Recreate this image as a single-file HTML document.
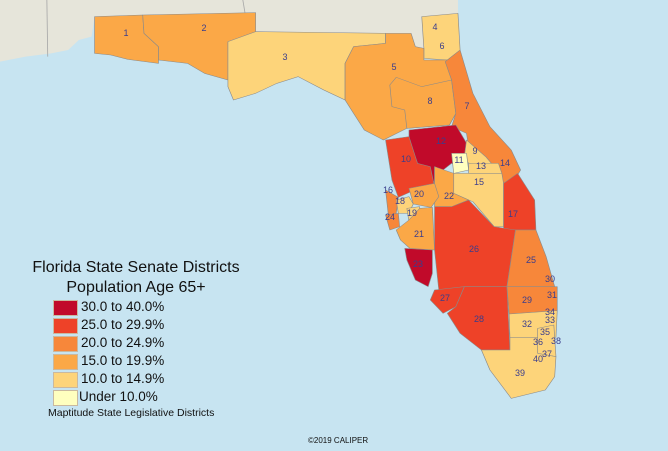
<!DOCTYPE html>
<html><head><meta charset="utf-8"><style>
body{margin:0;width:668px;height:451px;overflow:hidden;background:#c7e4f1;font-family:"Liberation Sans",sans-serif;position:relative}
svg{position:absolute;left:0;top:0}
.t{position:absolute;color:#111;white-space:nowrap}
.b{position:absolute;left:53px;width:23px;height:14px;border:1px solid #c9b9a0}
</style></head><body>
<svg width="668" height="451" viewBox="0 0 1568 1353" preserveAspectRatio="none">
<rect width="1568" height="1353" fill="#c7e4f1"/>
<polygon fill="#e6e5da" points="0,0 1075,0 1075,42 990,50 995,145 975,140 965,100 905,100 600,95 600,38 335,45 222,50 215,110 185,120 160,150 120,160 60,170 0,185"/>
<g stroke="#a9a9a9" stroke-width="2" fill="none"><path d="M110,0 L112,170"/><path d="M570,0 L575,38"/></g>
<g stroke="#8a8a8a" stroke-width="1.5" stroke-linejoin="round">
<polygon fill="#fba847" points="222,50 335,45 338,100 372,140 372,190 300,178 260,165 222,160"/>
<polygon fill="#fba847" points="335,45 600,38 600,95 535,125 535,240 480,220 440,190 372,180 372,140 338,100"/>
<polygon fill="#fdd47a" points="535,125 600,95 905,100 905,130 830,140 810,190 810,300 760,270 700,230 650,250 600,280 548,300 535,260"/>
<polygon fill="#fdd47a" points="990,50 1075,40 1080,150 1050,180 995,175 995,145"/>
<polygon fill="#fba847" points="830,140 905,130 905,100 965,100 975,140 995,145 995,180 1050,180 1060,240 1070,340 1055,375 955,385 900,420 855,390 830,340 810,300 810,190"/>
<polygon fill="#fba847" points="915,255 930,232 990,260 1060,240 1070,340 1055,375 955,385 950,330 920,320"/>
<polygon fill="#f7873a" points="1045,185 1080,150 1110,280 1150,380 1200,450 1222,510 1210,535 1180,550 1160,500 1140,470 1100,440 1095,400 1060,380 1070,340 1060,240"/>
<polygon fill="#c10a2a" points="960,390 1070,375 1100,440 1090,500 1060,490 1040,510 1020,500 1020,550 1000,500 980,490 960,420"/>
<polygon fill="#ee4228" points="905,420 960,410 980,490 1010,500 1020,560 965,575 935,592 920,540"/>
<polygon fill="#fdd47a" points="1095,420 1140,470 1160,500 1100,490 1090,470"/>
<polygon fill="#ffffbf" points="1060,460 1095,460 1100,510 1065,520"/>
<polygon fill="#fdd47a" points="1100,490 1170,490 1178,520 1100,520"/>
<polygon fill="#fdd47a" points="1065,520 1178,520 1182,550 1182,680 1160,680 1110,605 1100,600 1065,580"/>
<polygon fill="#ee4228" points="1182,550 1215,520 1255,600 1258,690 1182,690"/>
<polygon fill="#fba847" points="1020,500 1065,520 1065,580 1100,600 1060,620 1020,620 1020,550"/>
<polygon fill="#fba847" points="960,565 1020,550 1030,590 1012,622 970,612"/>
<polygon fill="#f7873a" points="905,570 935,592 930,640 912,650"/>
<polygon fill="#fdd47a" points="930,600 960,590 970,612 960,640 935,640"/>
<polygon fill="#fdd47a" points="955,625 985,620 985,660 960,665"/>
<polygon fill="#f7873a" points="905,645 935,640 938,680 915,690"/>
<polygon fill="#fba847" points="960,660 985,625 1015,622 1020,750 962,745 940,720 930,690"/>
<polygon fill="#ee4228" points="1020,620 1060,620 1100,600 1160,680 1210,690 1190,860 1090,860 1030,870 1020,750"/>
<polygon fill="#c10a2a" points="950,745 1015,750 1015,820 1005,860 975,840 955,780"/>
<polygon fill="#f7873a" points="1210,690 1258,690 1282,770 1302,860 1190,860"/>
<polygon fill="#ee4228" points="1020,870 1090,860 1070,920 1040,940 1010,900"/>
<polygon fill="#ee4228" points="1090,860 1190,860 1197,1050 1130,1050 1080,1000 1050,940 1070,920"/>
<polygon fill="#f7873a" points="1190,860 1308,860 1308,932 1195,942"/>
<polygon fill="#fdd47a" points="1195,942 1308,932 1305,1012 1197,1012"/>
<polygon fill="#fdd47a" points="1262,985 1300,975 1305,1070 1262,1060"/>
<polygon fill="#fdd47a" points="1197,1012 1262,1012 1262,1060 1305,1070 1302,1130 1280,1170 1200,1195 1150,1110 1130,1050 1197,1050"/>
</g>
</svg>
<svg width="668" height="451" viewBox="0 0 668 451">
<g font-family="Liberation Sans,sans-serif" font-size="9" fill="#3a3d8c" text-anchor="middle">
<text x="126" y="36">1</text><text x="204" y="31">2</text><text x="285" y="60">3</text><text x="435" y="30">4</text><text x="394" y="70">5</text><text x="442" y="49">6</text><text x="467" y="109">7</text><text x="430" y="104">8</text><text x="475" y="154">9</text><text x="406" y="162">10</text><text x="459" y="163">11</text><text x="441" y="144">12</text><text x="481" y="169">13</text><text x="505" y="166">14</text><text x="479" y="185">15</text><text x="388" y="193">16</text><text x="513" y="217">17</text><text x="400" y="204">18</text><text x="412" y="216">19</text><text x="419" y="197">20</text><text x="419" y="237">21</text><text x="449" y="199">22</text><text x="418" y="267">23</text><text x="390" y="220">24</text><text x="531" y="263">25</text><text x="474" y="252">26</text><text x="445" y="301">27</text><text x="479" y="322">28</text><text x="527" y="303">29</text><text x="550" y="282">30</text><text x="552" y="298">31</text><text x="527" y="327">32</text><text x="550" y="323">33</text><text x="550" y="315">34</text><text x="545" y="335">35</text><text x="538" y="345">36</text><text x="556" y="344">38</text><text x="547" y="357">37</text><text x="538" y="362">40</text><text x="520" y="376">39</text>
</g></svg>
<div class="t" style="left:0;width:272px;text-align:center;top:259px;font-size:16px">Florida State Senate Districts</div>
<div class="t" style="left:0;width:272px;text-align:center;top:279px;font-size:16px">Population Age 65+</div>
<div class="b" style="top:300px;background:#c10a2a"></div>
<div class="b" style="top:318px;background:#ee4228"></div>
<div class="b" style="top:336px;background:#f7873a"></div>
<div class="b" style="top:354px;background:#fba847"></div>
<div class="b" style="top:372px;background:#fdd47a"></div>
<div class="b" style="top:390px;background:#ffffbf"></div>
<div class="t" style="left:81px;top:299px;font-size:13.5px">30.0 to 40.0%</div>
<div class="t" style="left:81px;top:317px;font-size:13.5px">25.0 to 29.9%</div>
<div class="t" style="left:81px;top:335px;font-size:13.5px">20.0 to 24.9%</div>
<div class="t" style="left:81px;top:353px;font-size:13.5px">15.0 to 19.9%</div>
<div class="t" style="left:81px;top:371px;font-size:13.5px">10.0 to 14.9%</div>
<div class="t" style="left:79px;top:389px;font-size:13.5px">Under 10.0%</div>
<div class="t" style="left:48px;top:407px;font-size:10.5px">Maptitude State Legislative Districts</div>
<div class="t" style="left:308px;top:436px;font-size:8px">©2019 CALIPER</div>
</body></html>
